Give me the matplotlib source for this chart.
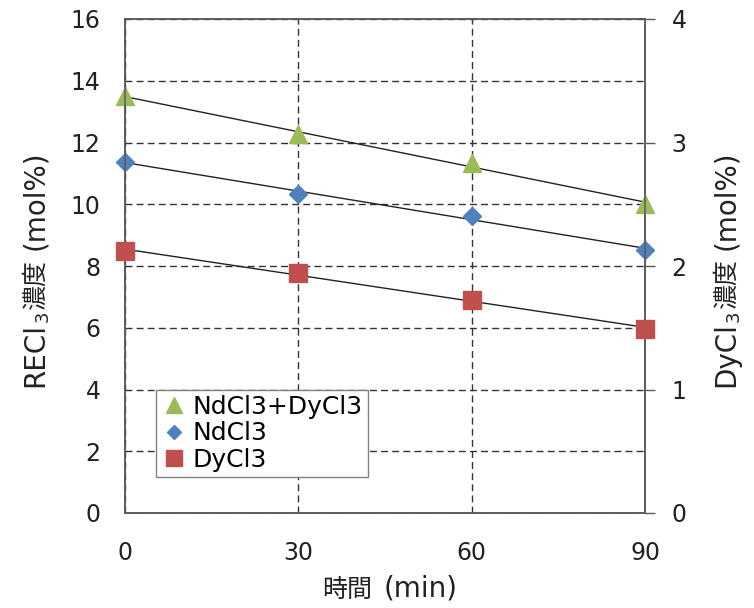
import numpy as np
import matplotlib
matplotlib.use("Agg")
import matplotlib.pyplot as plt
from matplotlib.lines import Line2D

plt.rcParams['font.family'] = ['DejaVu Sans', 'Noto Sans CJK JP']

# ---- data ----
time_min = [0, 30, 60, 90]
total_re = [13.49, 12.27, 11.35, 10.00]   # NdCl3+DyCl3 (left axis)
ndcl3 = [11.38, 10.32, 9.62, 8.53]        # NdCl3 (left axis)
dycl3 = [2.12, 1.945, 1.725, 1.49]        # DyCl3 (right axis)
labels = ['NdCl3+DyCl3', 'NdCl3', 'DyCl3']
x_ticks = [0, 30, 60, 90]
left_ticks = [0, 2, 4, 6, 8, 10, 12, 14, 16]
right_ticks = [0, 1, 2, 3, 4]

green = '#9BBB59'
blue = '#4F81BD'
red = '#C0504D'
tick_color = '#222222'
spine_color = '#595959'
LAT = 'DejaVu Sans'
CJK = 'Noto Sans CJK JP'

W, H = 754, 608
fig = plt.figure(figsize=(W/100, H/100), dpi=100)
ax = fig.add_axes([125/W, 1 - 513/H, 520/W, 494/H])
ax2 = ax.twinx()

t = np.array(time_min, dtype=float)

def trend(a, y):
    k, b = np.polyfit(t, np.array(y, dtype=float), 1)
    xx = np.array([t.min(), t.max()])
    a.plot(xx, k*xx + b, color='#222222', lw=1.0, zorder=3)

trend(ax, total_re)
trend(ax, ndcl3)
trend(ax2, dycl3)

ax.plot(t, total_re, ls='none', marker='^', ms=13.5, color=green, mec=green, zorder=4, clip_on=False)
ax.plot(t, ndcl3, ls='none', marker='D', ms=8.8, color=blue, mec=blue, zorder=4, clip_on=False)
ax2.plot(t, dycl3, ls='none', marker='s', ms=12.5, color=red, mec=red, zorder=4, clip_on=False)

ax.set_xlim(0, 90)
ax.set_ylim(0, 16)
ax2.set_ylim(0, 4)
ax.set_xticks(x_ticks)
ax.set_yticks(left_ticks)
ax2.set_yticks(right_ticks)

ax.grid(True, color='#333333', ls=(0, (5, 3)), lw=1.0)
ax.set_axisbelow(True)

ax.tick_params(axis='x', length=0, pad=20, labelsize=17, labelcolor=tick_color)
ax.tick_params(axis='y', length=0, pad=17.5, labelsize=17, labelcolor=tick_color)
ax2.tick_params(axis='y', length=7, width=1, direction='out', color=spine_color,
                pad=12, labelsize=17, labelcolor=tick_color)

for a in (ax, ax2):
    for s in a.spines.values():
        s.set_color(spine_color)
        s.set_linewidth(1.1)

handles = [
    Line2D([], [], ls='none', marker='^', ms=11, color=green),
    Line2D([], [], ls='none', marker='D', ms=7.5, color=blue),
    Line2D([], [], ls='none', marker='s', ms=11, color=red),
]
leg = ax2.legend(handles, labels, loc='lower left', bbox_to_anchor=(0.06, 0.073),
                 fontsize=18, frameon=True, fancybox=False, edgecolor='#808080',
                 framealpha=1, borderpad=0.2, handletextpad=0.25, labelspacing=0.1,
                 handlelength=1.0, borderaxespad=0)
leg.get_frame().set_linewidth(1.0)

# ---- axis titles built from pieces (real subscript) ----
renderer = fig.canvas.get_renderer()

def _mk(txt, fam, size, rot, x=0, y=0):
    return fig.text(x, y, txt, fontsize=size, family=fam, rotation=rot,
                    rotation_mode='anchor', ha='left', va='baseline', color=tick_color)

def draw_label(pieces, center, baseline, rot):
    # pieces: (text, family, size, shift_px, gap_before_px); coords in px, origin top-left
    lens = []
    for txt, fam, size, shift, gap in pieces:
        tt = _mk(txt, fam, size, rot)
        bb = tt.get_window_extent(renderer)
        lens.append(bb.height if rot == 90 else bb.width)
        tt.remove()
    total = sum(lens) + sum(p[4] for p in pieces)
    if rot == 0:
        cur = center - total / 2
        for (txt, fam, size, shift, gap), L in zip(pieces, lens):
            cur += gap
            _mk(txt, fam, size, 0, cur / W, 1 - (baseline + shift) / H)
            cur += L
    else:
        cur = center + total / 2
        for (txt, fam, size, shift, gap), L in zip(pieces, lens):
            cur -= gap
            _mk(txt, fam, size, 90, (baseline + shift) / W, 1 - cur / H)
            cur -= L

draw_label([('時間', CJK, 18, 0, 0), ('(min)', LAT, 20, 0, 11)], 390, 597, 0)
draw_label([('RECl', LAT, 20, 0, 0), ('3', LAT, 13, 5, 1), ('濃度', CJK, 18, 0, 1),
            ('(mol%)', LAT, 20, 0, 9)], 269, 43, 90)
draw_label([('DyCl', LAT, 20, 0, 0), ('3', LAT, 13, 5, 1), ('濃度', CJK, 18, 0, 1),
            ('(mol%)', LAT, 20, 0, 9)], 269, 734, 90)

fig.savefig('out.png', dpi=100)
